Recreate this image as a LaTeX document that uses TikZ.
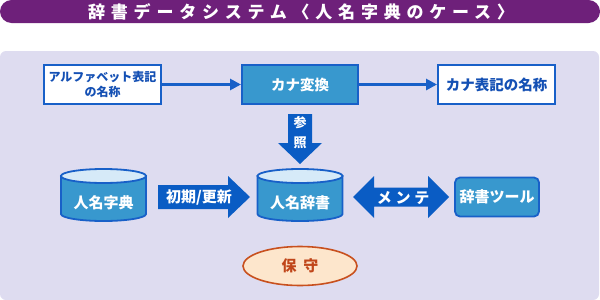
\documentclass[tikz,border=0pt]{standalone}
\usepackage{fontspec}
\setmainfont{Noto Sans CJK JP}
\usetikzlibrary{arrows.meta}
\definecolor{titlebg}{RGB}{110,32,122}
\definecolor{panel}{RGB}{222,220,240}
\definecolor{bborder}{RGB}{24,96,200}
\definecolor{btext}{RGB}{20,80,180}
\definecolor{midblue}{RGB}{56,152,206}
\definecolor{lightblue}{RGB}{214,234,248}
\definecolor{arrowblue}{RGB}{10,92,196}
\definecolor{peach}{RGB}{253,230,204}
\definecolor{rust}{RGB}{200,80,30}
\definecolor{rusttext}{RGB}{192,70,26}
\begin{document}
\begin{tikzpicture}[x=1pt,y=-1pt,
  wbox/.style={draw=bborder, line width=2pt, fill=white, text=btext, inner sep=0pt, align=center, minimum height=39pt},
  bbox/.style={draw=bborder, line width=2pt, fill=midblue, text=white, inner sep=0pt, align=center, minimum height=39pt},
  thinarrow/.style={draw=bborder, line width=3pt, -{Triangle[length=11pt,width=11pt]}},
  blockarrow/.style={fill=arrowblue},
  cylbody/.style={fill=midblue, draw=bborder, line width=1.8pt},
  cyltop/.style={fill=lightblue, draw=bborder, line width=1.8pt},
  wlabel/.style={text=white, inner sep=0pt, font=\fontsize{15}{15}\selectfont\bfseries},
]
\useasboundingbox (0,0) rectangle (600,300);
% title bar
\fill[titlebg, rounded corners=11.5pt] (0,0) rectangle (600,23);
\node[text=white, inner sep=0pt, font=\fontsize{17}{17}\selectfont\bfseries\addfontfeature{LetterSpace=34}] (title) at (301,12) {辞書データシステム〈人名字典のケース〉};
% panel
\fill[panel, rounded corners=6pt] (0,51) rectangle (599,300);

% top row
\node[wbox, minimum width=117pt, font=\fontsize{12}{15}\selectfont\bfseries] (alpha) at (102.5,84.5) {アルファベット表記\\の名称};
\node[bbox, minimum width=116pt, font=\fontsize{14.5}{15}\selectfont\bfseries] (kana) at (300,84.5) {カナ変換};
\node[wbox, minimum width=117pt, font=\fontsize{14.5}{15}\selectfont\bfseries] (kname) at (496.5,84.5) {カナ表記の名称};
\draw[thinarrow] (alpha.east) -- (kana.west);
\draw[thinarrow] (kana.east) -- (kname.west);

% reference arrow
\fill[blockarrow] (288,114) -- (312,114) -- (312,143) -- (322,143) -- (300,164) -- (278,143) -- (288,143) -- cycle;
\node[text=white, inner sep=0pt, align=center, font=\fontsize{13}{20}\selectfont\bfseries] (ref) at (300,133) {参\\照};

% cylinder 人名字典
\path[cylbody] (61,176) -- (61,214) arc[start angle=180, end angle=0, x radius=42.5, y radius=7] -- (146,176) -- cycle;
\path[cyltop] (103.5,176) ellipse[x radius=42.5, y radius=7];
\node[wlabel] (jiten) at (103.5,203) {人名字典};

% cylinder 人名辞書
\path[cylbody] (257.5,176) -- (257.5,214) arc[start angle=180, end angle=0, x radius=42.5, y radius=7] -- (342.5,176) -- cycle;
\path[cyltop] (300,176) ellipse[x radius=42.5, y radius=7];
\node[wlabel] (jisho) at (300,203) {人名辞書};

% update arrow
\fill[blockarrow] (158,185) -- (228,185) -- (228,176) -- (250,197) -- (228,218) -- (228,209) -- (158,209) -- cycle;
\node[wlabel] (upd) at (199,197) {初期/更新};

% maintenance double arrow
\fill[blockarrow] (353,197) -- (374,176) -- (374,187.5) -- (428,187.5) -- (428,176) -- (449,197) -- (428,218) -- (428,206.5) -- (374,206.5) -- (374,218) -- cycle;
\node[wlabel, font=\fontsize{15}{15}\selectfont\bfseries\addfontfeature{LetterSpace=25}] (mnt) at (403,198) {メンテ};

% dictionary tool
\node[draw=bborder, line width=1.8pt, fill=midblue, rounded corners=5pt, minimum width=84pt, minimum height=39pt, inner sep=0pt, text=white, font=\fontsize{15}{15}\selectfont\bfseries] (tool) at (497,197) {辞書ツール};

% maintenance ellipse
\path[fill=peach, draw=rust, line width=1.6pt] (300,266) ellipse[x radius=57, y radius=19.5];
\node[text=rusttext, inner sep=0pt, font=\fontsize{15}{15}\selectfont\bfseries] (hoshu) at (300,266) {保\kern7pt 守};
\end{tikzpicture}
\end{document}
